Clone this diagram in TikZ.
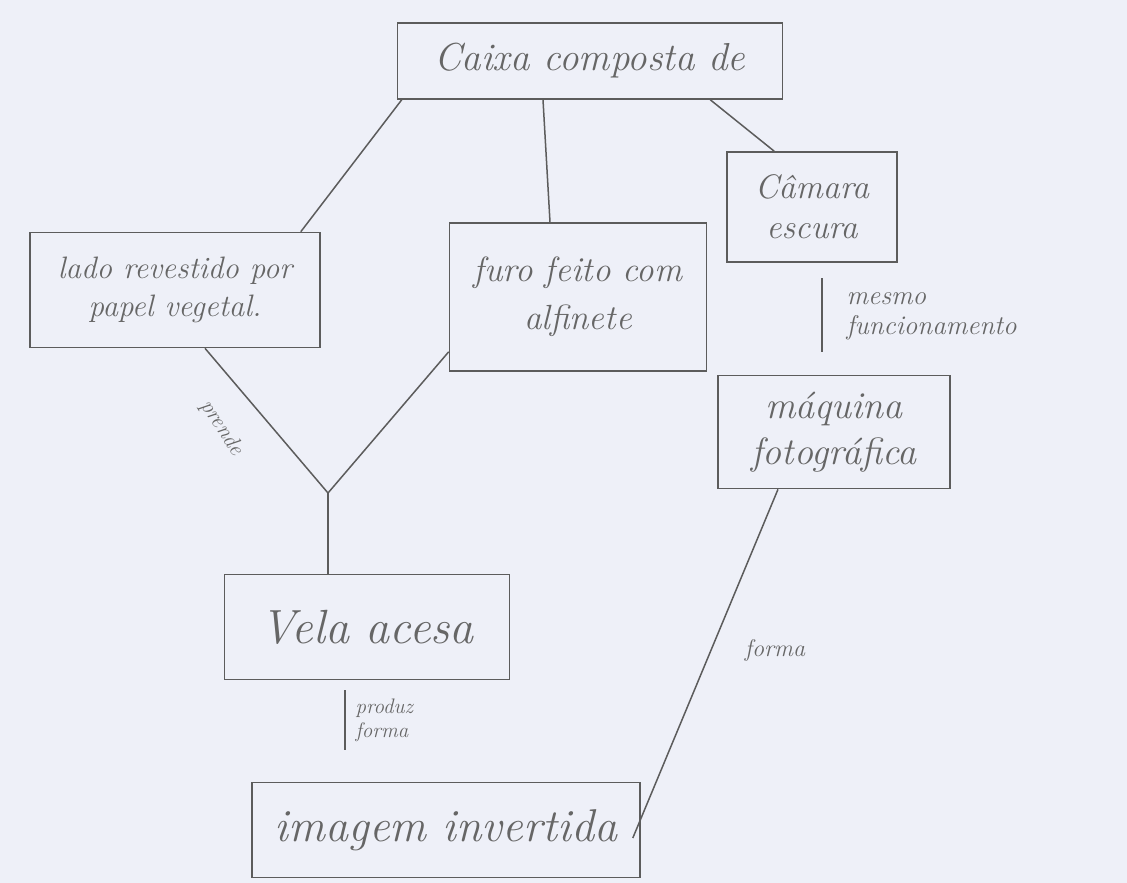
\documentclass[tikz,border=0pt]{standalone}
\usetikzlibrary{calc}
\definecolor{paper}{HTML}{EEF0F8}
\definecolor{pencil}{HTML}{5C5C5C}
\definecolor{ink}{HTML}{666666}
\begin{document}
\begin{tikzpicture}[x=1pt,y=-1pt,
  concept/.style={draw=pencil,line width=1.6pt,text=ink,align=center,inner sep=3pt,font=\itshape\fontsize{30}{34}\selectfont},
  link/.style={draw=pencil,line width=1.5pt},
  lab/.style={text=ink,align=left,font=\itshape\fontsize{24}{26}\selectfont}]
\fill[paper] (0,0) rectangle (1127,883);
\useasboundingbox (0,0) rectangle (1127,883);
\node[concept,minimum width=385,minimum height=76,font=\itshape\fontsize{39}{42}\selectfont] (caixa) at (590,61) {Caixa composta de};
\node[concept,minimum width=290,minimum height=115,font=\itshape\fontsize{31}{38}\selectfont] (lado) at (175,290) {lado revestido por\\papel vegetal.};
\node[concept,minimum width=257,minimum height=148,font=\itshape\fontsize{35}{48}\selectfont] (furo) at (578,297) {furo feito com\\alfinete};
\node[concept,minimum width=170,minimum height=110,font=\itshape\fontsize{34}{40}\selectfont] (camara) at (812,207) {Câmara\\escura};
\node[concept,minimum width=232,minimum height=113,font=\itshape\fontsize{38}{46}\selectfont] (maquina) at (834,432) {máquina\\fotográfica};
\node[concept,minimum width=285,minimum height=105,font=\itshape\fontsize{48}{52}\selectfont] (vela) at (367,627) {Vela acesa};
\node[concept,minimum width=388,minimum height=95,font=\itshape\fontsize{46}{50}\selectfont] (imagem) at (446,830) {imagem invertida};
\coordinate (j) at (328,493);
\coordinate (m1) at (822,278);
\coordinate (m2) at (822,352);
\coordinate (p1) at (345,690);
\coordinate (p2) at (345,750);
\draw[link] ($(caixa.south west)+(5,0)$) -- ($(lado.north east)+(-20,0)$);
\draw[link] ($(caixa.south)+(-47,0)$) -- ($(furo.north)+(-28,0)$);
\draw[link] ($(caixa.south east)+(-73,0)$) -- ($(camara.north west)+(48,0)$);
\draw[link] ($(lado.south)+(30,0)$) -- (j);
\draw[link] ($(furo.south west)+(0,-20)$) -- (j);
\draw[link] (j) -- ($(vela.north)+(-39,0)$);
\draw[link] (m1) -- (m2);
\draw[link] (p1) -- (p2);
\draw[link] ($(imagem.east)+(-8,8)$) -- ($(maquina.south)+(-56,0)$);
\node[lab,anchor=west,font=\itshape\fontsize{27}{30}\selectfont] (lmesmo) at (843,316) {mesmo\\funcionamento};
\node[lab,anchor=west,font=\itshape\fontsize{21}{24}\selectfont] (lprod) at (352,720) {produz\\forma};
\node[lab,rotate=-57,font=\itshape\fontsize{22}{24}\selectfont] (lprende) at (222,428) {prende};
\node[lab,font=\itshape\fontsize{24}{26}\selectfont] (lforma) at (775,650) {forma};
\end{tikzpicture}
\end{document}
